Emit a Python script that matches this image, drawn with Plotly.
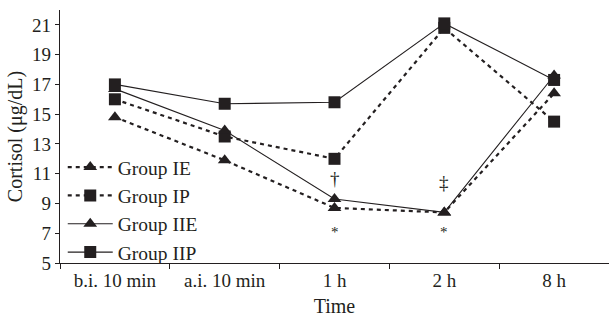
import plotly.graph_objects as go

categories = ["b.i. 10 min", "a.i. 10 min", "1 h", "2 h", "8 h"]
group_ie = [14.8, 11.9, 8.7, 8.4, 16.4]
group_ip = [16.0, 13.5, 12.0, 20.8, 14.5]
group_iie = [16.7, 13.9, 9.3, 8.4, 17.6]
group_iip = [17.0, 15.7, 15.8, 21.1, 17.3]

y_ticks = [5, 7, 9, 11, 13, 15, 17, 19, 21]

marks_text = ["\u2020", "\u2021", "*", "*"]
marks_x = ["1 h", "2 h", "1 h", "2 h"]
marks_y = [10.7, 10.4, 7.1, 7.1]

FONT = "Liberation Serif"
C = "#231f20"

fig = go.Figure()
series = [
    ("Group IE", group_ie, "4px,4px", 2.2, "triangle-up"),
    ("Group IP", group_ip, "4px,4px", 2.2, "square"),
    ("Group IIE", group_iie, "solid", 1.1, "triangle-up"),
    ("Group IIP", group_iip, "solid", 1.1, "square"),
]
for name, vals, dash, w, sym in series:
    fig.add_trace(go.Scatter(
        x=categories, y=vals, name=name, mode="lines+markers",
        line=dict(color=C, width=w, dash=dash),
        marker=dict(symbol=sym, size=12, color=C),
    ))

for t, xx, yy in zip(marks_text, marks_x, marks_y):
    fig.add_annotation(x=xx, y=yy, text=t, showarrow=False,
                       font=dict(family=FONT, size=19 if t != "*" else 15, color=C))

fig.update_layout(
    width=609, height=321,
    margin=dict(l=60, r=0, t=10, b=58),
    paper_bgcolor="white", plot_bgcolor="white",
    font=dict(family=FONT, size=19, color=C),
    showlegend=True,
    legend=dict(x=0.005, y=-0.035, xanchor="left", yanchor="bottom",
                bgcolor="rgba(0,0,0,0)", font=dict(size=19.5, family=FONT, color=C),
                itemwidth=45, tracegroupgap=0),
)
fig.update_xaxes(
    type="category", showline=True, linecolor=C, linewidth=1.2,
    ticks="outside", tickson="boundaries", ticklen=5, tickcolor=C,
    showgrid=False, range=[-0.5, 4.5], tickfont=dict(size=19),
    title=dict(text="Time", font=dict(size=20), standoff=9),
)
fig.update_yaxes(
    range=[5, 22], tickvals=y_ticks, showline=True, linecolor=C, linewidth=1.2,
    ticks="outside", ticklen=4, tickcolor=C, showgrid=False, zeroline=False,
    tickfont=dict(size=19),
    title=dict(text="Cortisol (\u03bcg/dL)", font=dict(size=20), standoff=4),
)

fig.write_html("out.html")
